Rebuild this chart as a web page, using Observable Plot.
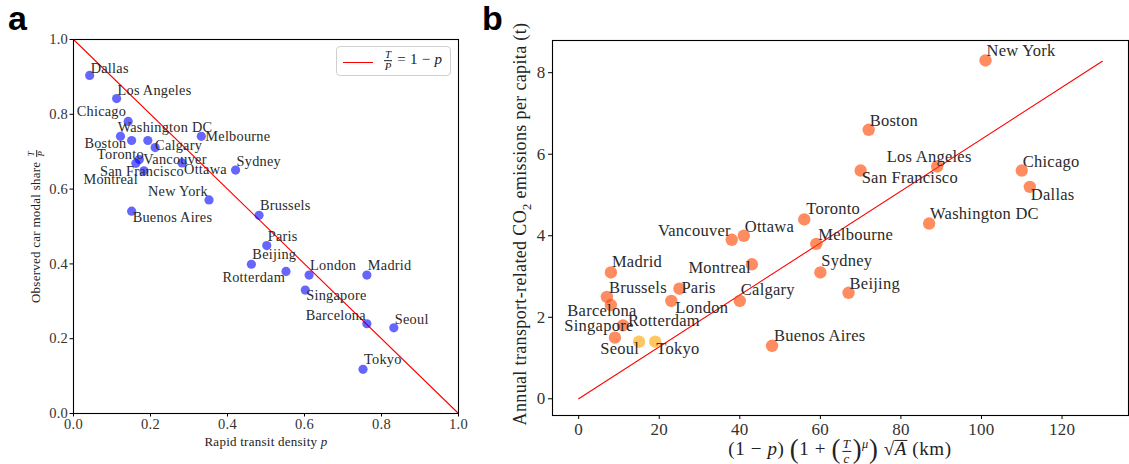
<!DOCTYPE html>
<html>
<head>
<meta charset="utf-8">
<script src="https://cdn.jsdelivr.net/npm/d3@7"></script>
<script src="https://cdn.jsdelivr.net/npm/@observablehq/plot@0.6"></script>
<style>
  body { margin: 0; background: #fff; }
  #wrap { position: relative; width: 1129px; height: 464px; overflow: hidden; font-family: "Liberation Serif", serif; }
  #wrap svg { position: absolute; top: 0; overflow: visible; font-family: "Liberation Serif", serif !important; }
  #wrap svg text { letter-spacing: 0.25px; font-family: "Liberation Serif", serif; }
  .ov { position: absolute; white-space: nowrap; color: #222; font-family: "Liberation Serif", serif; letter-spacing: 0.25px; line-height: 1; }
  .panelTag { font-family: "Liberation Sans", Arial, sans-serif; font-weight: bold; font-size: 34px; color: #000; letter-spacing: 0; }
  .frac { display: inline-flex; flex-direction: column; align-items: center; vertical-align: middle; font-size: 0.68em; line-height: 1.05; margin: 0 1px; }
  .frac > span:first-child { border-bottom: 1px solid currentColor; padding: 0 1px; }
  .rot { transform: translate(-50%, -50%) rotate(-90deg); }
  .ctr { transform: translate(-50%, -50%); }
  .big { font-size: 1.4em; vertical-align: -0.1em; line-height: 0; }
  .ovl { display: inline-block; line-height: 0.72; border-top: 1px solid currentColor; padding-top: 1px; }
  #legend { position: absolute; left: 336px; top: 46px; width: 115px; height: 30px; border: 1px solid #d0d0d0; border-radius: 4px; background: #fff; box-sizing: border-box; }
</style>
</head>
<body>
<div id="wrap"></div>
<script>
// ---------- data ----------
const cities = ["Dallas","Los Angeles","Chicago","Boston","Washington DC","Toronto","Calgary","Vancouver","Montreal","San Francisco","Ottawa","Melbourne","Sydney","New York","Buenos Aires","Brussels","Paris","Beijing","Rotterdam","London","Madrid","Singapore","Barcelona","Seoul","Tokyo"];
// panel a
const transitDensity = [0.042,0.112,0.142,0.122,0.151,0.193,0.212,0.171,0.162,0.183,0.282,0.332,0.421,0.352,0.151,0.482,0.502,0.462,0.552,0.612,0.762,0.602,0.762,0.832,0.752];
const carShare       = [0.904,0.842,0.781,0.741,0.730,0.730,0.711,0.679,0.669,0.649,0.670,0.741,0.651,0.571,0.541,0.530,0.449,0.399,0.380,0.370,0.370,0.330,0.240,0.229,0.118];
// panel b
const footprint = [112,89,110,72,87,56,40,38,43,70,41,59,60,101,48,7,25,67,11,23,8,9,8,15,19];
const emissions = [5.2,5.7,5.6,6.6,4.3,4.4,2.4,3.9,3.3,5.6,4.0,3.8,3.1,8.3,1.3,2.5,2.7,2.6,1.8,2.4,3.1,1.5,2.3,1.4,1.4];
const colorGroup = ["high","high","high","high","high","high","high","high","high","high","high","high","high","high","high","high","high","high","high","high","high","high","high","low","low"];
// model lines
const modelP = [0, 1];
const modelShare = [1, 0];
const fitX = [0, 130];
const fitY = [0, 8.28];
// ticks
const ticksA = [0, 0.2, 0.4, 0.6, 0.8, 1.0];
const ticksBx = [0, 20, 40, 60, 80, 100, 120];
const ticksBy = [0, 2, 4, 6, 8];

// ---------- label placement (px offsets from the point, baseline) ----------
const placeA = {
  "Dallas":[1,-2,"start"], "Los Angeles":[1,-4,"start"], "Chicago":[-2,-5,"end"], "Boston":[6,12,"end"],
  "Washington DC":[-14,-8,"start"], "Toronto":[-4,19,"end"], "Calgary":[0,2,"start"], "Vancouver":[4,4,"start"],
  "Montreal":[2,21,"end"], "San Francisco":[-2,5,"middle"], "Ottawa":[2,11,"start"], "Melbourne":[4,5,"start"],
  "Sydney":[1,-4,"start"], "New York":[-1,-4,"end"], "Buenos Aires":[1,11,"start"], "Brussels":[1,-5,"start"],
  "Paris":[1,-5,"start"], "Beijing":[1,-5,"start"], "Rotterdam":[-1,11,"end"], "London":[1,-5,"start"],
  "Madrid":[1,-5,"start"], "Singapore":[1,10,"start"], "Barcelona":[-1,-4,"end"], "Seoul":[1,-4,"start"], "Tokyo":[1,-5,"start"]
};
const placeB = {
  "New York":[1,-4,"start"], "Boston":[1,-4,"start"], "Los Angeles":[-8,-4,"middle"], "San Francisco":[1,12,"start"],
  "Chicago":[1,-4,"start"], "Dallas":[1,13,"start"], "Toronto":[2,-5,"start"], "Washington DC":[1,-5,"start"],
  "Melbourne":[2,-4,"start"], "Vancouver":[-1,-4,"end"], "Ottawa":[1,-4,"start"], "Madrid":[1,-5,"start"],
  "Montreal":[-1,9,"end"], "Sydney":[1,-6,"start"], "Brussels":[2,-4,"start"], "Paris":[2,4,"start"],
  "London":[4,12,"start"], "Calgary":[1,-6,"start"], "Beijing":[1,-4,"start"], "Barcelona":[-9,11,"middle"],
  "Rotterdam":[5,1,"start"], "Singapore":[-16,-7,"middle"], "Seoul":[0,12,"end"], "Tokyo":[1,12,"start"], "Buenos Aires":[2,-5,"start"]
};

const rowsA = cities.map((c, i) => ({city: c, p: transitDensity[i], share: carShare[i]}));
const rowsB = cities.map((c, i) => ({city: c, x: footprint[i], y: emissions[i], g: colorGroup[i]}));
const model = modelP.map((p, i) => ({p, share: modelShare[i]}));
const fit = fitX.map((x, i) => ({x, y: fitY[i]}));

const textColor = "#2a2a2a";
const font = "Liberation Serif";

function labels(rows, place, xk, yk, size) {
  return rows.map(d => {
    const [dx, dy, anchor] = place[d.city];
    return Plot.text([d], {x: xk, y: yk, text: "city", dx, dy, textAnchor: anchor, lineAnchor: "bottom",
      fontSize: size, fontFamily: font, fill: textColor});
  });
}

const wrap = document.getElementById("wrap");

// ---------- panel a ----------
const chartA = Plot.plot({
  width: 470, height: 464,
  marginLeft: 73, marginRight: 12, marginTop: 39, marginBottom: 51,
  style: {fontFamily: font, color: "#333", background: "transparent"},
  x: {domain: [0, 1]},
  y: {domain: [0, 1]},
  marks: [
    Plot.axisX({ticks: ticksA, tickFormat: d => d.toFixed(1), tickSize: 3.5, tickPadding: 2, fontSize: 14.5, fontFamily: font, label: null, stroke: "#000"}),
    Plot.axisY({ticks: ticksA, tickFormat: d => d.toFixed(1), tickSize: 3.5, tickPadding: 2, fontSize: 14.5, fontFamily: font, label: null, stroke: "#000"}),
    Plot.line(model, {x: "p", y: "share", stroke: "red", strokeWidth: 1.1}),
    Plot.dot(rowsA, {x: "p", y: "share", r: 4.6, fill: "blue", fillOpacity: 0.6, stroke: "none"}),
    ...labels(rowsA, placeA, "p", "share", 14.3),
    Plot.frame({stroke: "#000", strokeWidth: 1.1})
  ]
});
chartA.style.left = "0px";
wrap.appendChild(chartA);

// ---------- panel b ----------
const chartB = Plot.plot({
  width: 659, height: 464,
  marginLeft: 82, marginRight: 1, marginTop: 40, marginBottom: 49,
  style: {fontFamily: font, color: "#333", background: "transparent"},
  x: {domain: [-6.5, 136.5]},
  y: {domain: [-0.41, 8.79]},
  color: {domain: ["high", "low"], range: ["orangered", "orange"]},
  marks: [
    Plot.axisX({ticks: ticksBx, tickSize: 4, tickPadding: 3, fontSize: 17, fontFamily: font, label: null, stroke: "#000"}),
    Plot.axisY({ticks: ticksBy, tickSize: 4, tickPadding: 3, fontSize: 17, fontFamily: font, label: null, stroke: "#000"}),
    Plot.line(fit, {x: "x", y: "y", stroke: "red", strokeWidth: 1.1}),
    Plot.dot(rowsB, {x: "x", y: "y", r: 6.2, fill: "g", fillOpacity: 0.62, stroke: "none"}),
    ...labels(rowsB, placeB, "x", "y", 16.5),
    Plot.frame({stroke: "#000", strokeWidth: 1.1})
  ]
});
chartB.style.left = "470px";
wrap.appendChild(chartB);

// ---------- texts around the plots ----------
function addOv(html, style, cls) {
  const d = document.createElement("div");
  d.className = "ov " + (cls || "");
  d.setAttribute("style", style);
  d.innerHTML = html;
  wrap.appendChild(d);
  return d;
}
addOv("a", "left:8px;top:1px;", "panelTag");
addOv("b", "left:482px;top:1px;", "panelTag");

// panel a axis labels
addOv('Rapid transit density <i>p</i>', "left:266px;top:441px;font-size:13px;", "ctr");
addOv('Observed car modal share <span class="frac"><span><i>T</i></span><span><i>P</i></span></span>',
      "left:37px;top:226px;font-size:13px;", "rot");

// legend
const leg = document.createElement("div");
leg.id = "legend";
leg.innerHTML = '<div style="position:absolute;left:6px;top:15px;width:30px;height:0;border-top:1.2px solid red;"></div>' +
  '<div class="ov" style="left:46px;top:14px;font-size:15px;color:#222;transform:translateY(-50%);">' +
  '<span class="frac" style="font-size:0.72em"><span><i>T</i></span><span><i>P</i></span></span> = 1 − <i>p</i></div>';
wrap.appendChild(leg);

// panel b axis labels
addOv('(1 − <i>p</i>) <span class="big">(</span>1 + <span class="big">(</span><span class="frac"><span><i>T</i></span><span><i>c</i></span></span><span class="big">)</span><sup style="font-size:0.65em"><i>μ</i></sup><span class="big">)</span> √<span class="ovl"><i>A</i></span> (km)',
      "left:840px;top:451px;font-size:19px;letter-spacing:0.6px;", "ctr");
addOv('Annual transport-related CO<sub style="font-size:0.7em">2</sub> emissions per capita (t)',
      "left:522px;top:224px;font-size:18px;letter-spacing:0.35px;", "rot");
</script>
</body>
</html>
